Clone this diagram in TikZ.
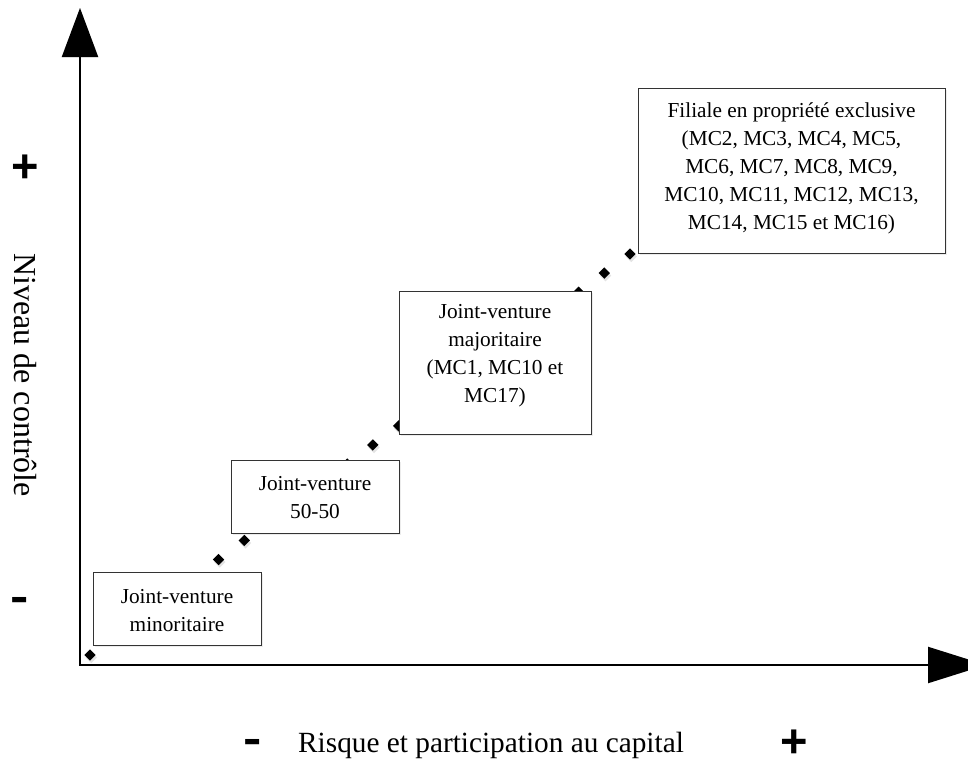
\documentclass[tikz,border=0pt]{standalone}
\usepackage{fontspec}
\setmainfont{Liberation Serif}
\newfontfamily\signfont{Liberation Sans}
\usetikzlibrary{arrows.meta,shapes.geometric,shadows}
\begin{document}
\begin{tikzpicture}[x=1bp,y=-1bp,
  softshadow/.style={drop shadow={opacity=0.15,shadow xshift=1.5bp,shadow yshift=-2bp}},
  dotshadow/.style={drop shadow={opacity=0.22,shadow xshift=1.2bp,shadow yshift=-2.5bp}},
  box/.style={rectangle,draw=black!80,line width=0.9bp,fill=white,inner sep=0pt,softshadow},
  boxtext/.style={font=\fontsize{21.3bp}{28bp}\selectfont,align=center,inner sep=0pt},
  axislabel/.style={font=\fontsize{29.3bp}{34bp}\selectfont,inner sep=0pt},
  ylabel/.style={font=\fontsize{32bp}{36bp}\selectfont,inner sep=0pt},
  plussign/.style={font=\signfont\bfseries\fontsize{47bp}{47bp}\selectfont,inner sep=0pt},
  minussign/.style={font=\signfont\bfseries\fontsize{44bp}{44bp}\selectfont,inner sep=0pt,xscale=1.25},
  dot/.style={diamond,fill=black,minimum size=11.5bp,inner sep=0pt,dotshadow},
  axisline/.style={line width=2bp,{Triangle[length=49bp,width=36bp]}-{Triangle[length=58bp,width=36bp]}},
]
\useasboundingbox (0,0) rectangle (968,760);
\fill[white] (0,0) rectangle (968,760);

% axes
\coordinate (O) at (80,665);
\coordinate (ytip) at (80,8);
\coordinate (xtip) at (986,665);
\draw[axisline,black!15,shift={(1.5,2.5)}] (ytip) -- (O) -- (xtip);
\draw[axisline] (ytip) -- (O) -- (xtip);

% dotted diagonal
\foreach \k in {0,...,21}{
  \node[dot] (d\k) at ({90+\k*540/21},{655-\k*401/21}) {};
}

% boxes
\node[box,minimum width=168bp,minimum height=73bp] (b1) at (177,608.5) {};
\node[box,minimum width=168bp,minimum height=73bp] (b2) at (315,496.5) {};
\node[box,minimum width=192bp,minimum height=143bp] (b3) at (495,362.5) {};
\node[box,minimum width=307bp,minimum height=165bp] (b4) at (791.5,170.5) {};

\node[boxtext] (t1) at (177,611) {Joint-venture\\minoritaire};
\node[boxtext] (t2) at (315,497.5) {Joint-venture\\50-50};
\node[boxtext] (t3) at (495,355.5) {Joint-venture\\majoritaire\\(MC1, MC10 et\\MC17)};
\node[boxtext] (t4) at (791.5,168) {Filiale en propriété exclusive\\(MC2, MC3, MC4, MC5,\\MC6, MC7, MC8, MC9,\\MC10, MC11, MC12, MC13,\\MC14, MC15 et MC16)};

% axis labels
\node[axislabel,anchor=base] (xl) at (491,752) {Risque et participation au capital};
\node[ylabel,anchor=base,rotate=-90] (yl) at (14.5,375) {Niveau de contrôle};

% signs
\node[plussign,anchor=base] (yplus) at (25.5,182.5) {+};
\node[minussign,anchor=base] (yminus) at (19.5,611) {-};
\node[plussign,anchor=base] (xplus) at (794,757.5) {+};
\node[minussign,anchor=base] (xminus) at (253,753) {-};
\end{tikzpicture}
\end{document}
